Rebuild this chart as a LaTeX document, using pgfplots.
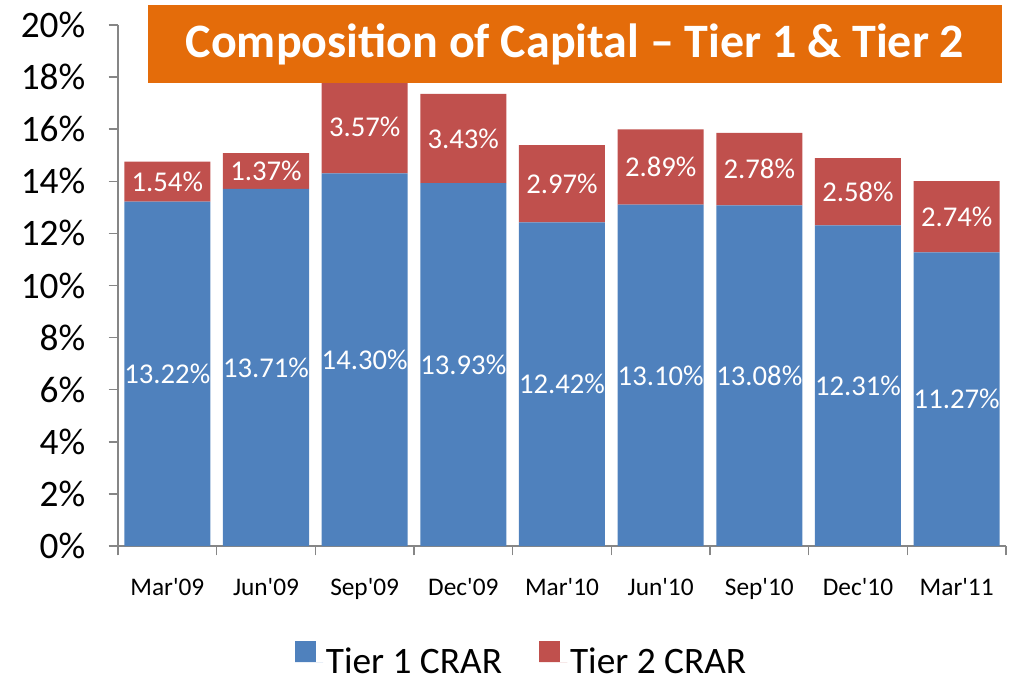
\documentclass[border=0pt]{standalone}
\usepackage{fontspec}
\setmainfont{Carlito}
\usepackage{pgfplots}
\usepackage{pgfplotstable}
\pgfplotsset{compat=1.18}
\definecolor{TierOne}{HTML}{4F81BD}
\definecolor{TierTwo}{HTML}{C0504D}
\definecolor{TitleOrange}{HTML}{E46C0A}
\definecolor{AxisGray}{HTML}{868686}

% quarter, Tier 1 CRAR, Tier 2 CRAR (in %)
\pgfplotstableread{
x t1 t2
0 13.22 1.54
1 13.71 1.37
2 14.30 3.57
3 13.93 3.43
4 12.42 2.97
5 13.10 2.89
6 13.08 2.78
7 12.31 2.58
8 11.27 2.74
}\capdata

\newcommand{\q}{\textquotesingle}

\begin{document}
\begin{tikzpicture}
\begin{axis}[
  at={(0,0)}, anchor=south west,
  scale only axis, width=666pt, height=390.75pt,
  ybar stacked, bar width=64.5pt,
  xmin=-0.5, xmax=8.5, ymin=0, ymax=20,
  axis x line*=bottom, axis y line*=left,
  axis line style={draw=AxisGray, line width=1.1pt},
  tick align=outside, major tick length=7pt,
  tick style={draw=AxisGray, line width=1.1pt},
  xtick={-0.5,0.5,...,8.5},
  xticklabels={Mar\q09,Jun\q09,Sep\q09,Dec\q09,Mar\q10,Jun\q10,Sep\q10,Dec\q10,Mar\q11,{}},
  xticklabel style={font=\fontsize{19}{22}\selectfont, anchor=base, xshift=37pt, yshift=-30pt},
  ytick={0,2,...,20},
  yticklabel={\pgfmathprintnumber{\tick}\%},
  yticklabel style={font=\fontsize{28}{32}\selectfont, xshift=-14pt},
  /pgf/number format/assume math mode=true,
  point meta=explicit,
  nodes near coords={\pgfmathprintnumber[fixed,fixed zerofill,precision=2]{\pgfplotspointmeta}\%},
  nodes near coords style={text=white, font=\fontsize{21.5}{24}\selectfont, anchor=center},
  legend style={at={(0.455,-0.216)}, anchor=center, draw=none, fill=none,
    legend columns=2, font=\fontsize{28}{32}\selectfont,
    nodes={inner ysep=0pt},
    /tikz/every even column/.append style={column sep=26pt}},
  legend image code/.code={\fill[#1] (0pt,0pt) rectangle (15.75pt,15.75pt);
    \path (0pt,0pt) -- (21pt,0pt);},
]
\addplot[fill=TierOne, draw=none] table[x=x, y=t1, meta=t1] {\capdata};
\addplot[fill=TierTwo, draw=none] table[x=x, y=t2, meta=t2] {\capdata};
\legend{Tier 1 CRAR, Tier 2 CRAR}
\end{axis}
\node[fill=TitleOrange, text=white, font=\bfseries\fontsize{36}{40}\selectfont,
  minimum width=640.5pt, minimum height=58.5pt, inner sep=0pt] at (342.75pt,376.5pt)
  {Composition of Capital – Tier 1 \& Tier 2};
\pgfresetboundingbox
\useasboundingbox (-88.5pt,-96.75pt) rectangle (669pt,409.5pt);
\end{tikzpicture}
\end{document}
